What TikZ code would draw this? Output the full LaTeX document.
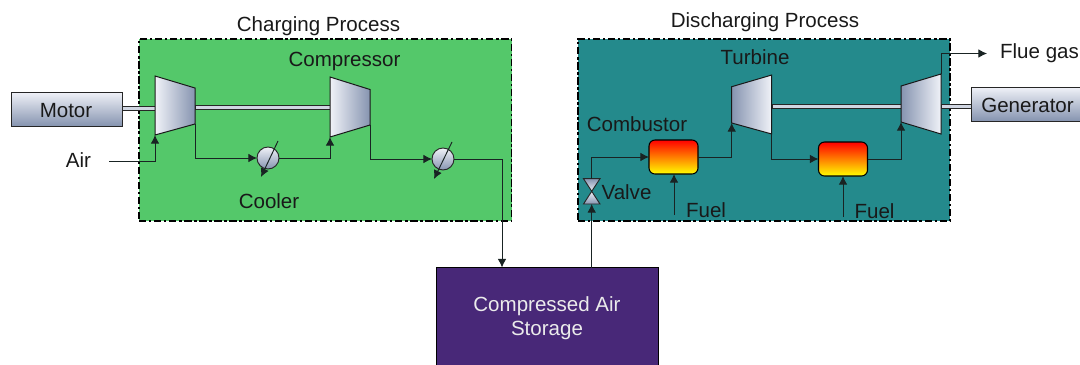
\documentclass[tikz,border=0pt]{standalone}
\usepackage{fontspec}
\setmainfont{Liberation Sans}
\usetikzlibrary{arrows.meta,calc}
\definecolor{greenbg}{RGB}{84,200,106}
\definecolor{tealbg}{RGB}{36,138,140}
\definecolor{purplebg}{RGB}{72,40,120}
\definecolor{steelL}{RGB}{240,242,248}
\definecolor{steelD}{RGB}{134,148,176}
\definecolor{wire}{RGB}{25,35,35}
\def\p{0.75pt}
\tikzset{
  x=0.75pt,y=-0.75pt,
  label text/.style={font=\fontsize{15.4pt}{18pt}\selectfont,text=black!90,inner sep=0pt,outer sep=0pt},
  zone/.style={anchor=north west,inner sep=0pt,outer sep=0pt,draw=black,line width=0.8pt,dash pattern=on 5.5pt off 2pt on 1.8pt off 2pt},
  steelbox/.style={anchor=north west,inner sep=0pt,outer sep=0pt,draw=black!85,line width=0.75pt,top color=steelL,bottom color=steelD,font=\fontsize{15.4pt}{18pt}\selectfont},
  shaftbar/.style={anchor=north west,inner sep=0pt,outer sep=0pt,draw=black!85,line width=0.7pt,fill=steelL!70!steelD},
  firebox/.style={anchor=north west,inner sep=0pt,outer sep=0pt,draw=black,line width=0.8pt,rounded corners=4.5pt,top color=red,bottom color=yellow,minimum width=49*\p,minimum height=34*\p},
  coolernode/.style={circle,inner sep=0pt,outer sep=0pt,draw=black!85,line width=0.7pt,minimum size=22*\p,top color=steelL,bottom color=steelD},
  machineC/.style={draw=black!90,line width=0.75pt,left color=steelL,right color=steelD,line join=miter},
  machineT/.style={draw=black!90,line width=0.75pt,left color=steelD,right color=steelL,line join=miter},
  valvepart/.style={draw=black!85,line width=0.7pt},
  flow/.style={draw=wire,line width=0.72pt,-{Latex[length=6.5pt,width=6.5pt]}},
}
\begin{document}
\begin{tikzpicture}
\useasboundingbox (0,0) rectangle (1080,364);
% zones
\node[zone,fill=greenbg,minimum width=372.5*\p,minimum height=182*\p] (chargezone) at (139,39) {};
\node[zone,fill=tealbg,minimum width=372*\p,minimum height=182*\p] (dischargezone) at (578,39) {};
\node[anchor=north west,inner sep=0pt,outer sep=0pt,fill=purplebg,draw=black,line width=0.75pt,minimum width=222*\p,minimum height=110*\p] (storage) at (436,267.5) {};
\node[align=center,text=white!92!black,font=\fontsize{15.4pt}{18pt}\selectfont,inner sep=0pt] (storagetext) at (547,318) {Compressed Air\\Storage};
% machine corners
\coordinate (c1a) at (155,76); \coordinate (c1b) at (195,88); \coordinate (c1c) at (195,124); \coordinate (c1d) at (155,135);
\coordinate (c2a) at (330,77); \coordinate (c2b) at (370,89.5); \coordinate (c2c) at (370,125); \coordinate (c2d) at (330,137);
\coordinate (t1a) at (731.7,86.7); \coordinate (t1b) at (771.7,75); \coordinate (t1c) at (771.7,134); \coordinate (t1d) at (731.7,123);
\coordinate (t2a) at (901,86); \coordinate (t2b) at (941,74); \coordinate (t2c) at (941,134); \coordinate (t2d) at (901,122);
% shafts
\node[shaftbar,minimum width=33*\p,minimum height=4*\p] (shaftA) at (122,106) {};
\node[shaftbar,minimum width=135*\p,minimum height=4*\p] (shaftB) at (195,105) {};
\node[shaftbar,minimum width=129*\p,minimum height=4*\p] (shaftC) at (772,104) {};
\node[shaftbar,minimum width=30*\p,minimum height=4*\p] (shaftD) at (941,104) {};
% boxes
\node[steelbox,minimum width=111*\p,minimum height=34*\p] (motor) at (11,92) {};
\node[label text] (motortext) at (66,111) {Motor};
\node[steelbox,minimum width=112*\p,minimum height=34*\p] (generator) at (971,87) {};
\node[label text] (generatortext) at (1027.5,105) {Generator};
\node[firebox] (comb1) at (649,140) {};
\node[firebox] (comb2) at (818.5,142) {};
\node[coolernode] (cool1) at (268,158) {};
\node[coolernode] (cool2) at (443,159) {};
% machines
\draw[machineC] (c1a) -- (c1b) -- (c1c) -- (c1d) -- cycle;
\draw[machineC] (c2a) -- (c2b) -- (c2c) -- (c2d) -- cycle;
\draw[machineT] (t1a) -- (t1b) -- (t1c) -- (t1d) -- cycle;
\draw[machineT] (t2a) -- (t2b) -- (t2c) -- (t2d) -- cycle;
% valve
\coordinate (valvetop) at (591.7,178.7);
\coordinate (valvemid) at (591.7,191.3);
\coordinate (valvebot) at (591.7,204);
\draw[valvepart,top color=steelD,bottom color=steelL] (583.5,178.7) -- (600,178.7) -- (valvemid) -- cycle;
\draw[valvepart,top color=steelL,bottom color=steelD] (583.5,204) -- (600,204) -- (valvemid) -- cycle;
% free ends
\coordinate (airin) at (109,161);
\coordinate (fuelA) at (674,215);
\coordinate (fuelB) at (843,217);
\coordinate (fluegas) at (987,53.5);
\coordinate (storagein) at (502,267.5);
\coordinate (s1a) at (278,141); \coordinate (s1b) at (261,177);
\coordinate (s2a) at (452,142); \coordinate (s2b) at (434,179);
% connectors
\draw[flow] (airin) -| (c1d);
\draw[flow] (c1c) |- (cool1.west);
\draw[flow] (cool1.east) -| (c2d);
\draw[flow] (c2c) |- (cool2.west);
\draw[flow] (cool2.east) -| (storagein);
\draw[flow] (s1a) -- (s1b);
\draw[flow] (s2a) -- (s2b);
\draw[flow] (valvebot |- storage.north) -- (valvebot);
\draw[flow] (valvetop) |- (comb1.west);
\draw[flow] (fuelA) -- (fuelA |- comb1.south);
\draw[flow] (fuelB) -- (fuelB |- comb2.south);
\draw[flow] (comb1.east) -| (t1d);
\draw[flow] (t1c) |- (comb2.west);
\draw[flow] (comb2.east) -| (t2d);
\draw[flow] (t2b) |- (fluegas);
% labels
\node[label text] (l1) at (318.5,26) {Charging Process};
\node[label text] (l2) at (765,22) {Discharging Process};
\node[label text] (l3) at (344.5,61) {Compressor};
\node[label text] (l4) at (755,57) {Turbine};
\node[label text] (l5) at (637,124) {Combustor};
\node[label text] (l6) at (626.5,192) {Valve};
\node[label text] (l7) at (706,210) {Fuel};
\node[label text] (l8) at (874.5,211) {Fuel};
\node[label text] (l9) at (269,201) {Cooler};
\node[label text] (l10) at (78.5,160.5) {Air};
\node[label text] (l11) at (1039.5,53) {Flue gas};
\end{tikzpicture}
\end{document}
